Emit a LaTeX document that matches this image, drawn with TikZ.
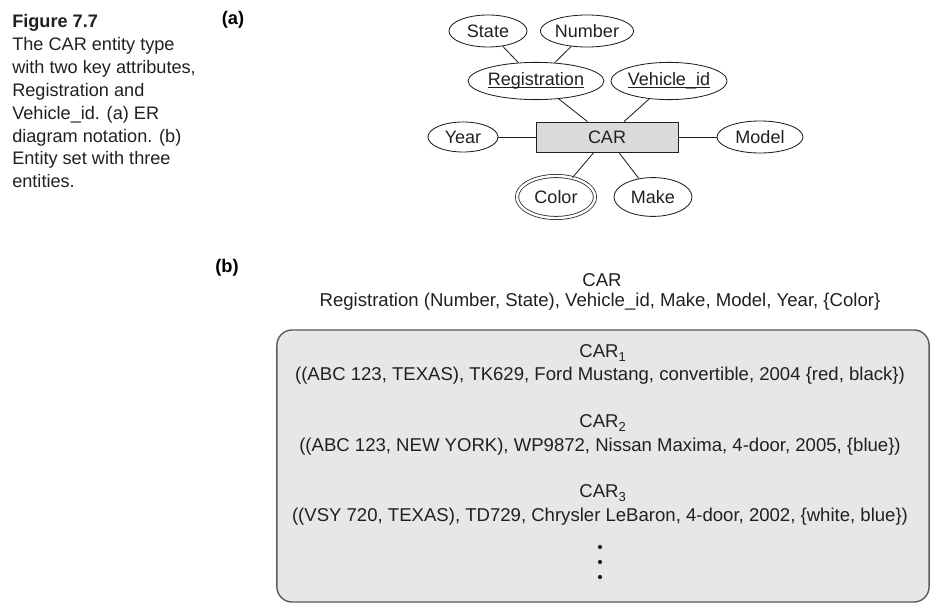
\documentclass[tikz,border=0pt]{standalone}
\usepackage{fontspec}
\setmainfont{Liberation Sans}
\usetikzlibrary{shapes.geometric, positioning}
\definecolor{ink}{RGB}{35,31,32}
\definecolor{entgray}{RGB}{218,218,219}
\definecolor{setgray}{RGB}{230,231,232}
\definecolor{setline}{RGB}{90,90,92}
\newcommand{\keyattr}[1]{\setbox0\hbox{#1}\rlap{\rule[-1.6pt]{\wd0}{0.5pt}}\box0}
\tikzset{
  attr/.style={ellipse, draw=ink, line width=0.6pt, inner sep=0pt, text=ink},
  multiattr/.style={attr, double=white, double distance=1.7pt, line width=0.55pt},
  ent/.style={rectangle, draw=ink, fill=entgray, line width=0.6pt,
    minimum width=3.55cm, minimum height=0.75cm, inner sep=0pt, text=ink},
  lnk/.style={draw=ink, line width=0.6pt},
  entset/.style={rectangle, draw=setline, fill=setgray, line width=1pt,
    rounded corners=0.38cm, minimum width=16.3cm, minimum height=6.8cm},
  rowtxt/.style={inner sep=0pt, text=ink, font=\fontsize{13.2}{16.3}\selectfont},
  tag/.style={inner sep=0pt, font=\fontsize{13}{16.3}\selectfont\bfseries},
  capt/.style={inner sep=0pt, align=left, text=ink, font=\fontsize{12.9}{16.3}\selectfont},
  dotm/.style={circle, fill=ink, inner sep=0pt, minimum size=3pt},
}
\begin{document}
\begin{tikzpicture}[x=0.025cm, y=-0.025cm,
  every node/.style={font=\fontsize{12.8}{16.3}\selectfont}]
  \useasboundingbox (0,0) rectangle (936,616);

  % caption
  \node[capt, anchor=north west] (caption) at (12,14)
       {\textbf{Figure 7.7}\\The CAR entity type\\with two key attributes,\\Registration and\\Vehicle\_id. (a) ER\\diagram notation. (b)\\Entity set with three\\entities.};

  % (a) ER diagram
  \node[tag] (taga) at (233,20) {(a)};

  \node[ent] (car) at (607,137) {CAR};

  \node[attr, minimum width=1.95cm, minimum height=0.8cm]  (state)  at (488,31) {State};
  \node[attr, minimum width=2.33cm, minimum height=0.8cm]  (number) at (587,31) {Number};
  \node[attr, minimum width=3.18cm, minimum height=0.93cm] (reg)    at (536,81) {\keyattr{Registration}};
  \node[attr, minimum width=2.85cm, minimum height=0.93cm] (vid)    at (669,81) {\keyattr{Vehicle\_id}};
  \node[attr, minimum width=1.75cm, minimum height=0.75cm] (year)   at (463,137) {Year};
  \node[attr, minimum width=2.15cm, minimum height=0.8cm]  (model)  at (760,137) {Model};
  \node[multiattr, minimum width=1.95cm, minimum height=1.05cm] (color) at (556,197) {Color};
  \node[attr, minimum width=1.95cm, minimum height=0.97cm] (make)   at (653,197) {Make};

  \draw[lnk] (state)  -- (reg);
  \draw[lnk] (number) -- (reg);
  \draw[lnk] (reg)    -- (car);
  \draw[lnk] (vid)    -- (car);
  \draw[lnk] (year)   -- (car);
  \draw[lnk] (car)    -- (model);
  \draw[lnk] (car)    -- (color);
  \draw[lnk] (car)    -- (make);

  % (b) entity set
  \node[tag] (tagb) at (227,268) {(b)};
  \node[rowtxt] (settitle) at (602,280) {CAR};
  \node[rowtxt] (setattrs) at (600,302)
       {Registration (Number, State), Vehicle\_id, Make, Model, Year, \{Color\}};

  \node[entset] (set) at (603,466) {};

  \node[rowtxt] (car1)  at (603,353) {CAR\textsubscript{1}};
  \node[rowtxt] (row1)  at (600,376)
       {((ABC 123, TEXAS), TK629, Ford Mustang, convertible, 2004 \{red, black\})};
  \node[rowtxt] (car2)  at (603,423) {CAR\textsubscript{2}};
  \node[rowtxt] (row2)  at (600,447)
       {((ABC 123, NEW YORK), WP9872, Nissan Maxima, 4-door, 2005, \{blue\})};
  \node[rowtxt] (car3)  at (603,493) {CAR\textsubscript{3}};
  \node[rowtxt] (row3)  at (600,517)
       {((VSY 720, TEXAS), TD729, Chrysler LeBaron, 4-door, 2002, \{white, blue\})};

  \foreach \y [count=\i] in {547,562,577}
    \node[dotm] (dot\i) at (600,\y) {};
\end{tikzpicture}
\end{document}
